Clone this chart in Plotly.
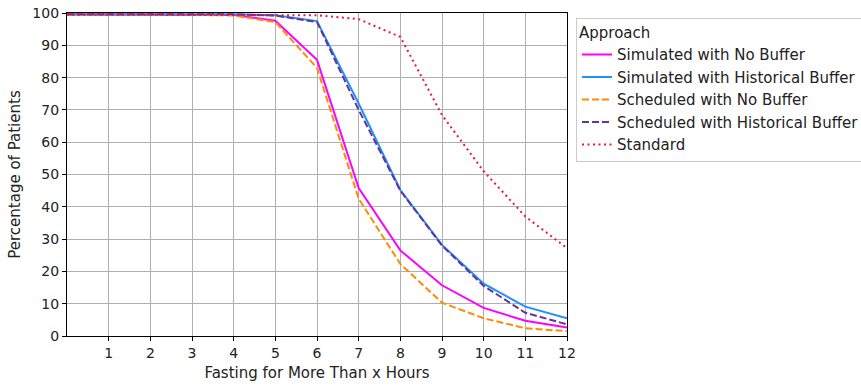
import plotly.graph_objects as go

hours = [0, 1, 2, 3, 4, 5, 6, 7, 8, 9, 10, 11, 12]
sim_no_buffer = [99.5, 99.5, 99.5, 99.5, 99.4, 97.6, 85.5, 45.8, 26.5, 15.7, 8.7, 4.7, 2.6]
sim_hist_buffer = [99.6, 99.6, 99.6, 99.6, 99.6, 99.3, 97.5, 72.0, 45.2, 28.2, 16.2, 9.1, 5.5]
sched_no_buffer = [99.5, 99.5, 99.5, 99.5, 99.2, 97.2, 83.0, 42.5, 22.3, 10.3, 5.5, 2.4, 1.5]
sched_hist_buffer = [99.6, 99.6, 99.6, 99.6, 99.6, 99.2, 97.2, 70.0, 45.0, 28.0, 15.5, 7.2, 3.6]
standard = [99.5, 99.5, 99.5, 99.5, 99.5, 99.5, 99.3, 98.1, 92.6, 68.4, 51.0, 37.0, 27.2]

names = ["Simulated with No Buffer", "Simulated with Historical Buffer",
         "Scheduled with No Buffer", "Scheduled with Historical Buffer", "Standard"]
series = [sim_no_buffer, sim_hist_buffer, sched_no_buffer, sched_hist_buffer, standard]
colors = ["#ff00ff", "#1e90ff", "#ff8c00", "#663399", "#f0143c"]
dashes = ["solid", "solid", "7px,3px", "7px,3px", "2px,3.5px"]

x_ticks = [1, 2, 3, 4, 5, 6, 7, 8, 9, 10, 11, 12]
y_ticks = [0, 10, 20, 30, 40, 50, 60, 70, 80, 90, 100]

fig = go.Figure()
for n, s, c, d in zip(names, series, colors, dashes):
    fig.add_trace(go.Scatter(x=hours, y=s, mode="lines", name=n,
                             line=dict(color=c, width=2, dash=d)))

fs = 15
tfs = 14
fig.update_layout(
    width=861, height=387,
    margin=dict(l=67, r=294, t=13, b=51, autoexpand=False),
    plot_bgcolor="white", paper_bgcolor="white",
    font=dict(family="DejaVu Sans", size=fs, color="#222"),
    legend=dict(title=dict(text="Approach", font=dict(size=fs)),
                x=1.018, y=0.985, xanchor="left", yanchor="top",
                bordercolor="#cccccc", borderwidth=1, bgcolor="white",
                font=dict(size=fs), tracegroupgap=0),
)
fig.update_xaxes(range=[0, 12], tickvals=x_ticks, ticktext=[str(v) for v in x_ticks],
                 showgrid=True, gridcolor="#b0b0b0", gridwidth=1,
                 showline=True, linecolor="black", linewidth=1.2, mirror=True,
                 ticks="outside", ticklen=4, tickcolor="black", automargin=False,
                 title=dict(text="Fasting for More Than x Hours", font=dict(size=fs), standoff=7),
                 tickfont=dict(size=tfs), zeroline=False)
fig.update_yaxes(range=[0, 100], tickvals=y_ticks,
                 showgrid=True, gridcolor="#b0b0b0", gridwidth=1,
                 showline=True, linecolor="black", linewidth=1.2, mirror=True,
                 ticks="outside", ticklen=4, tickcolor="black", automargin=False,
                 title=dict(text="Percentage of Patients", font=dict(size=fs), standoff=8),
                 tickfont=dict(size=tfs), zeroline=False)

fig.write_html("out.html")
